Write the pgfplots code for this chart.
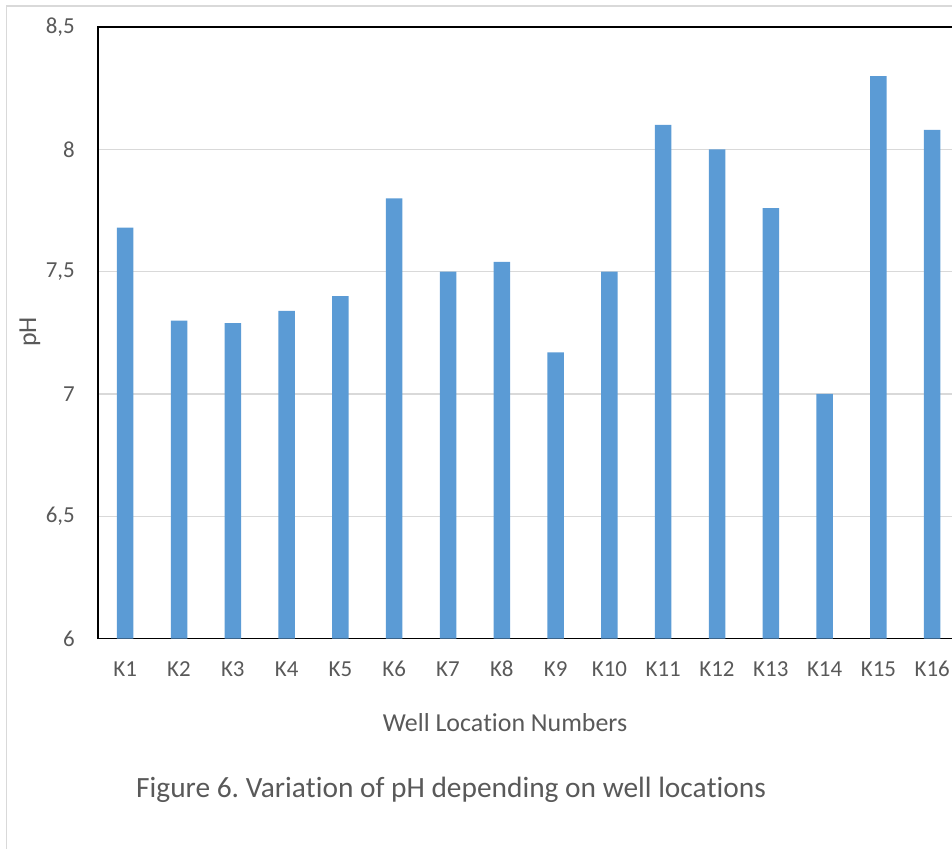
\documentclass[border=0pt]{standalone}
\usepackage{fontspec}
\setmainfont{Carlito}[Ligatures={TeX,NoCommon}, Contextuals={NoAlternate}]
\usepackage{pgfplots}
\pgfplotsset{compat=1.18}
\definecolor{barblue}{HTML}{5B9BD5}
\definecolor{txtgray}{HTML}{595959}
\definecolor{gridgray}{HTML}{D9D9D9}
\frenchspacing
\begin{document}
\begin{tikzpicture}
\begin{axis}[
  at={(98.3bp,210.4bp)}, anchor=south west,
  scale only axis, width=860.8bp, height=611.5bp,
  xmin=0.5, xmax=16.5, ymin=6, ymax=8.5,
  ybar, bar width=16.5bp, bar shift=0pt,
  xtick={1,2,3,4,5,6,7,8,9,10,11,12,13,14,15,16},
  xticklabels={K1,K2,K3,K4,K5,K6,K7,K8,K9,K10,K11,K12,K13,K14,K15,K16},
  ytick={6,6.5,7,7.5,8,8.5},
  yticklabels={6,{6,5},7,{7,5},8,{8,5}},
  major tick length=0pt,
  ymajorgrids, grid style={gridgray, line width=1.5bp},
  axis line style={black, line width=1.8bp},
  tick label style={font=\fontsize{23}{27}\selectfont, text=txtgray, inner sep=0pt},
  yticklabel style={anchor=east, xshift=-23.3bp},
  xticklabel style={anchor=base, yshift=-38.1bp},
  xlabel={Well Loca\kern0pt tion Numbers}, ylabel={pH},
  label style={font=\fontsize{26}{30}\selectfont, text=txtgray, inner sep=0pt},
  xlabel style={at={(axis description cs:0.4725,-0.1522)}, anchor=base},
  ylabel style={at={(axis description cs:-0.07238,0.5014)}, anchor=base},
]
\addplot[fill=barblue, draw=none] coordinates {
  (1,7.68) (2,7.30) (3,7.29) (4,7.34) (5,7.40) (6,7.80) (7,7.50) (8,7.54)
  (9,7.17) (10,7.50) (11,8.10) (12,8.00) (13,7.76) (14,7.00) (15,8.30) (16,8.08)
};
\end{axis}
\node[anchor=base west, inner sep=0pt, font=\fontsize{29.5}{34}\selectfont, text=txtgray] at (136bp,51.7bp) {Figure 6. Varia\kern0pt tion of pH depending on well loca\kern0pt tions};
\draw[gridgray, line width=1.3bp] (6.7bp,-5bp) -- (6.7bp,843bp) -- (960bp,843bp);
\pgfresetboundingbox
\useasboundingbox (0,0) rectangle (952bp,849bp);
\end{tikzpicture}
\end{document}
